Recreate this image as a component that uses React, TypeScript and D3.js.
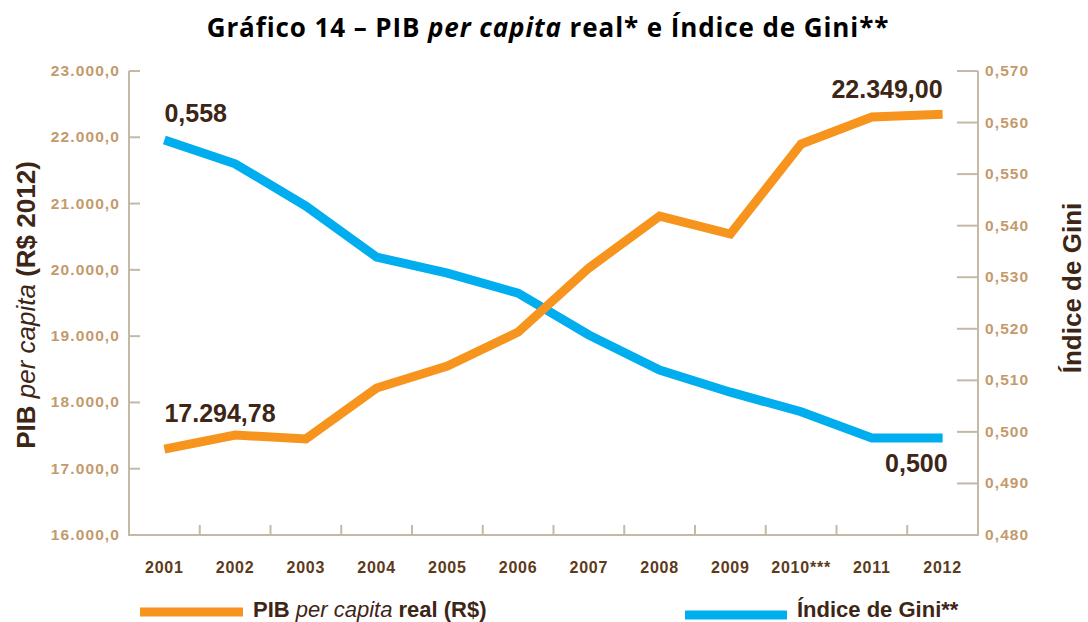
import React from "react";
import * as d3 from "d3";

// dados
const years = ["2001", "2002", "2003", "2004", "2005", "2006", "2007", "2008", "2009", "2010***", "2011", "2012"];
const pibValues = [17294.78, 17508, 17448, 18218, 18549, 19062, 20028, 20812, 20541, 21898, 22306, 22349];
const giniValues = [0.5566, 0.552, 0.5438, 0.5339, 0.5308, 0.5269, 0.5188, 0.512, 0.5077, 0.5039, 0.4988, 0.4988];
const pibTicks = [16000, 17000, 18000, 19000, 20000, 21000, 22000, 23000];
const giniTicks = [0.48, 0.49, 0.5, 0.51, 0.52, 0.53, 0.54, 0.55, 0.56, 0.57];
const pibFirstLabel = "17.294,78";
const pibLastLabel = "22.349,00";
const giniFirstLabel = "0,558";
const giniLastLabel = "0,500";

const ORANGE = "#F7941D";
const BLUE = "#00AEEF";
const AXIS = "#C5B9A5";
const TICK_TXT = "#C49A6C";
const DARK = "#3D2616";
const YEAR_TXT = "#5C3A1A";
const SANS = "'Liberation Sans', Arial, sans-serif";

export default function App() {
  const left = 129;
  const right = 978;
  const top = 71;
  const bottom = 535;

  const x = d3.scaleBand<string>().domain(years).range([left, right]);
  const yPib = d3.scaleLinear().domain([16000, 23000]).range([bottom, top]);
  const yGini = d3.scaleLinear().domain([0.48, 0.57]).range([bottom, top]);
  const cx = (d: string) => (x(d) as number) + x.bandwidth() / 2;

  const pibLine = d3
    .line<number>()
    .x((_, i) => cx(years[i]))
    .y((d) => yPib(d));
  const giniLine = d3
    .line<number>()
    .x((_, i) => cx(years[i]))
    .y((d) => yGini(d));

  const fmtPib = (v: number) => d3.format(",.1f")(v).replace(/,/g, "X").replace(".", ",").replace(/X/g, ".");
  const fmtGini = (v: number) => d3.format(".3f")(v).replace(".", ",");

  const last = years.length - 1;

  return (
    <svg width={1088} height={622} style={{ position: "absolute", left: 0, top: 0, background: "#fff" }}>
      {/* título */}
      <text
        x={548}
        y={37}
        textAnchor="middle"
        fontFamily="'Open Sans', sans-serif"
        fontWeight="bold"
        fontSize={26}
        letterSpacing={0.9}
        fill="#000"
      >
        Gráfico 14 – PIB <tspan fontStyle="italic">per capita</tspan> real* e Índice de Gini**
      </text>

      {/* eixos */}
      <g stroke={AXIS} strokeWidth={2} fill="none">
        <line x1={left} x2={left} y1={top} y2={bottom} />
        <line x1={right} x2={right} y1={top} y2={bottom} />
        <line x1={left - 1} x2={right + 1} y1={bottom} y2={bottom} />
        {pibTicks.map((t) => (
          <line key={t} x1={left} x2={left + 11} y1={yPib(t)} y2={yPib(t)} />
        ))}
        {giniTicks.map((t) => (
          <line key={t} x1={right - 21} x2={right} y1={yGini(t)} y2={yGini(t)} />
        ))}
        {years.slice(1).map((d) => (
          <line key={d} x1={x(d) as number} x2={x(d) as number} y1={bottom} y2={bottom - 10} />
        ))}
      </g>

      {/* rótulos dos eixos */}
      <g fontFamily={SANS} fontWeight="bold" fontSize={15.5} fill={TICK_TXT} letterSpacing={1.1}>
        {pibTicks.map((t) => (
          <text key={t} x={120} y={yPib(t) + 5} textAnchor="end">
            {fmtPib(t)}
          </text>
        ))}
        {giniTicks.map((t) => (
          <text key={t} x={985} y={yGini(t) + 5}>
            {fmtGini(t)}
          </text>
        ))}
      </g>
      <g fontFamily={SANS} fontWeight="bold" fontSize={16} fill={YEAR_TXT} letterSpacing={0.8}>
        {years.map((d) => (
          <text key={d} x={cx(d)} y={573} textAnchor="middle">
            {d}
          </text>
        ))}
      </g>

      {/* títulos dos eixos */}
      <text
        transform="translate(35,305) rotate(-90)"
        textAnchor="middle"
        fontFamily={SANS}
        fontWeight="bold"
        fontSize={26}
        fill={DARK}
      >
        PIB <tspan fontStyle="italic" fontWeight="normal">per capita</tspan> (R$ 2012)
      </text>
      <text
        transform="translate(1081,288) rotate(-90)"
        textAnchor="middle"
        fontFamily={SANS}
        fontWeight="bold"
        fontSize={26}
        fill={DARK}
      >
        Índice de Gini
      </text>

      {/* séries */}
      <path d={giniLine(giniValues) as string} fill="none" stroke={BLUE} strokeWidth={9} strokeLinejoin="miter" />
      <path d={pibLine(pibValues) as string} fill="none" stroke={ORANGE} strokeWidth={9} strokeLinejoin="miter" />

      {/* valores destacados */}
      <g fontFamily={SANS} fontWeight="bold" fontSize={25} fill={DARK}>
        <text x={cx(years[0])} y={122}>{giniFirstLabel}</text>
        <text x={cx(years[0])} y={422}>{pibFirstLabel}</text>
        <text x={cx(years[last])} y={98} textAnchor="end">{pibLastLabel}</text>
        <text x={cx(years[last]) + 5} y={472} textAnchor="end">{giniLastLabel}</text>
      </g>

      {/* legenda */}
      <line x1={140} x2={243} y1={612} y2={612} stroke={ORANGE} strokeWidth={9} />
      <text x={253} y={617} fontFamily={SANS} fontWeight="bold" fontSize={22} fill={DARK}>
        PIB <tspan fontStyle="italic" fontWeight="normal">per capita</tspan> real (R$)
      </text>
      <line x1={685} x2={787} y1={615} y2={615} stroke={BLUE} strokeWidth={9} />
      <text x={797} y={617} fontFamily={SANS} fontWeight="bold" fontSize={22} fill={DARK}>
        Índice de Gini**
      </text>
    </svg>
  );
}
